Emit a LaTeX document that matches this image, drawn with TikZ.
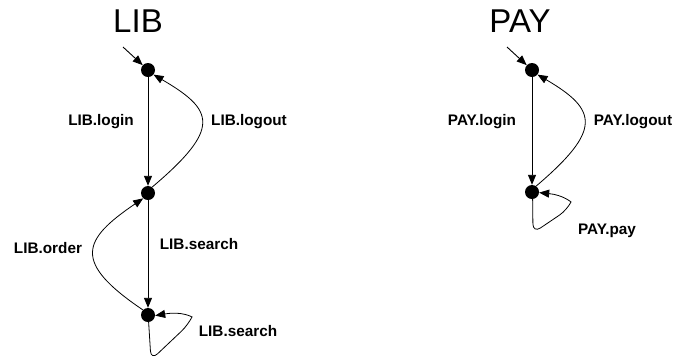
\documentclass[tikz,border=0pt]{standalone}
\usepackage{fontspec}
\setmainfont{Liberation Sans}
\usetikzlibrary{arrows.meta}
\begin{document}
\begin{tikzpicture}[x=1pt,y=-1pt,
  state/.style={circle,fill=black,inner sep=0pt,minimum size=14pt},
  arr/.style={-{Triangle[length=10pt,width=8pt]},line width=0.9pt},
  lp/.style={arr,line width=0.8pt,rounded corners=9pt},
  lbl/.style={font=\fontsize{15.3}{18}\selectfont\bfseries,inner sep=0pt},
  ttl/.style={font=\fontsize{33}{38}\selectfont,inner sep=0pt}]
\useasboundingbox (0,0) rectangle (693,360);
% LIB
\node[ttl] (libt) at (138,21) {LIB};
\node[state] (l1) at (148,70) {};
\node[state] (l2) at (148,193) {};
\node[state] (l3) at (148,315) {};
\coordinate (li) at (123,47);
\draw[arr] (li) -- (l1);
\draw[arr] (l1) -- (l2);
\draw[arr] (l2) -- (l3);
\draw[arr,line width=0.8pt] (l2.55) .. controls (222,128) and (214,110) .. (l1.-40);
\draw[arr,line width=0.8pt] (l3.135) .. controls (72,262) and (82,240) .. (l2.-132);
\draw[lp] (l3.-85) -- (151,360) -- (188,325) .. controls (192,317) and (182,311) .. (l3.-5);
\node[lbl] (a1) at (101,122) {LIB.login};
\node[lbl] (a2) at (249,122) {LIB.logout};
\node[lbl] (a3) at (48,248) {LIB.order};
\node[lbl] (a4) at (199,244) {LIB.search};
\node[lbl] (a5) at (238,331) {LIB.search};
% PAY
\node[ttl] (payt) at (520,21) {PAY};
\node[state] (p1) at (532,70) {};
\node[state] (p2) at (532,192) {};
\coordinate (pi) at (507,47);
\draw[arr] (pi) -- (p1);
\draw[arr] (p1) -- (p2);
\draw[arr,line width=0.8pt] (p2.55) .. controls (602,130) and (598,110) .. (p1.-40);
\draw[lp] (p2.-85) -- (533,233) -- (567,210) .. controls (571,202) and (563,195) .. (p2.-5);
\node[lbl] (b1) at (482,122) {PAY.login};
\node[lbl] (b2) at (633,122) {PAY.logout};
\node[lbl] (b3) at (607,231) {PAY.pay};
\end{tikzpicture}
\end{document}
